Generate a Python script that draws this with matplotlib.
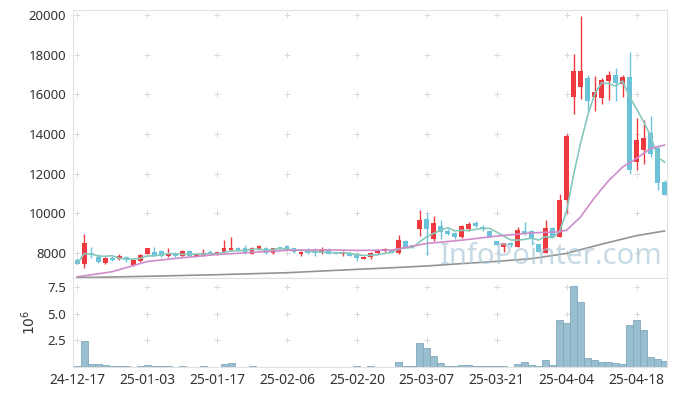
import matplotlib
matplotlib.use("Agg")
import matplotlib.pyplot as plt
import numpy as np
import pandas as pd

plt.rcParams['font.family'] = ['Noto Sans', 'DejaVu Sans']

# ---- data ----
opens = [7660, 7450, 8000, 7815, 7480, 7730, 7680, 7800, 7410, 7580,
         7965, 8065, 8100, 7865, 7965, 7865, 8100, 7830, 7900, 8050,
         7915, 8030, 8150, 8235, 8235, 7965, 8215, 8235, 8000, 8300,
         8335, 8235, 7950, 8130, 8130, 8065, 8150, 8030, 7965, 8000,
         7930, 7715, 7785, 8015, 8085, 8180, 7985, 8585, 8385, 9220,
         9695, 8720, 9355, 9090, 8990, 8820, 9190, 9525, 9320, 9090,
         8620, 8315, 8485, 8320, 9120, 9120, 8450, 8015, 9255, 8820,
         10660, 15890, 16357, 16830, 15855, 15790, 16690, 16995, 16525, 16895,
         12575, 13175, 14045, 13275, 11570]
highs = [7760, 8950, 8300, 7950, 7800, 7830, 7950, 7830, 7680, 7950,
         8235, 8300, 8170, 8250, 8030, 8130, 8130, 7980, 8200, 8150,
         8065, 8650, 8790, 8300, 8400, 8330, 8400, 8330, 8270, 8320,
         8400, 8270, 8100, 8235, 8235, 8300, 8235, 8060, 8100, 8030,
         8000, 7830, 8030, 8200, 8250, 8200, 8920, 8650, 8420, 10195,
         10025, 9860, 9690, 9200, 9055, 9420, 9560, 9620, 9390, 9090,
         8620, 8520, 8550, 9320, 9590, 9180, 8450, 9660, 9290, 11000,
         14015, 18035, 19945, 16960, 16900, 16830, 17160, 17330, 16995, 18135,
         14820, 14720, 14890, 13440, 11700]
lows = [7430, 7250, 7750, 7500, 7450, 7600, 7650, 7560, 7360, 7560,
        7930, 7850, 7820, 7820, 7780, 7820, 7865, 7800, 7830, 7880,
        7880, 8000, 8100, 8100, 7950, 7930, 8130, 7965, 7965, 8200,
        8150, 8000, 7870, 7965, 7870, 7930, 7965, 7930, 7870, 7865,
        7600, 7680, 7680, 7950, 8050, 8015, 7950, 8250, 8250, 8855,
        7885, 8585, 8720, 8900, 8720, 8750, 9120, 9300, 9090, 8820,
        8415, 8060, 8320, 8290, 8890, 8420, 8050, 7985, 8790, 8790,
        9995, 14985, 15755, 15185, 15185, 15520, 15690, 15655, 15855, 12005,
        12170, 12470, 12850, 11165, 10915]
closes = [7460, 8490, 7900, 7565, 7765, 7630, 7850, 7630, 7630, 7915,
          8235, 7900, 7865, 7965, 7865, 8100, 7865, 7965, 8000, 7950,
          8030, 8270, 8270, 8115, 7985, 8270, 8370, 8000, 8270, 8235,
          8165, 8030, 8065, 8000, 8000, 8150, 7965, 7930, 8030, 7865,
          7765, 7815, 7985, 8150, 8215, 8015, 8650, 8285, 8285, 9660,
          9220, 9530, 9055, 8955, 8820, 9355, 9490, 9355, 9190, 8820,
          8415, 8485, 8385, 9155, 9020, 8690, 8050, 9255, 8820, 10660,
          13880, 17200, 17196, 15655, 16125, 16730, 16995, 16590, 16895, 12170,
          13680, 13780, 13010, 11535, 10915]
volumes = [0.07, 2.45, 0.28, 0.28, 0.17, 0.08, 0.08, 0.08, 0.02, 0.08,
           0.17, 0.08, 0.08, 0.08, 0.02, 0.08, 0.02, 0.02, 0.08, 0.02,
           0.02, 0.28, 0.35, 0.02, 0.02, 0.08, 0.02, 0.02, 0.02, 0.02,
           0.02, 0.02, 0.02, 0.02, 0.02, 0.02, 0.02, 0.02, 0.02, 0.02,
           0.09, 0.02, 0.09, 0.02, 0.02, 0.02, 0.47, 0.09, 0.09, 2.22,
           1.75, 1.00, 0.34, 0.09, 0.09, 0.16, 0.16, 0.08, 0.08, 0.08,
           0.08, 0.08, 0.02, 0.25, 0.44, 0.16, 0.09, 0.66, 0.16, 4.38,
           4.13, 7.60, 6.06, 0.81, 0.66, 0.44, 0.44, 0.34, 0.25, 3.90,
           4.38, 3.44, 0.90, 0.72, 0.56]

# longer moving averages (index, value)
ma20_idx = [0, 5, 10, 15, 20, 25, 30, 35, 40, 45, 50, 55, 60, 65, 69, 70, 72, 74, 76, 78, 80, 82, 84]
ma20_val = [6800, 7060, 7575, 7765, 7925, 8035, 8135, 8165, 8135, 8150, 8485, 8650, 8855, 9020, 9070,
            9155, 9825, 10800, 11650, 12335, 12775, 13275, 13440]
ma60_idx = [0, 10, 20, 30, 40, 45, 50, 55, 60, 65, 70, 75, 80, 84]
ma60_val = [6760, 6830, 6910, 7010, 7180, 7260, 7350, 7470, 7580, 7720, 7985, 8450, 8880, 9115]

tick_pos = [0, 10, 20, 30, 40, 50, 60, 70, 80]
tick_labels = ['24-12-17', '25-01-03', '25-01-17', '25-02-06', '25-02-20',
               '25-03-07', '25-03-21', '25-04-04', '25-04-18']
price_ticks = [8000, 10000, 12000, 14000, 16000, 18000, 20000]
vol_ticks = [2.5, 5.0, 7.5]

# ---- styling ----
UP = '#ee3a3f'
DOWN = '#6cc3d9'
TEAL = '#86c8bd'
PINK = '#cf8ccb'
GRAY = '#939393'
SPINE = '#e2e2e2'
TXT = '#333333'

fig = plt.figure(figsize=(6.77, 3.96), dpi=100)
W, H = 677, 396
ax = fig.add_axes([73 / W, 1 - 278 / H, (667 - 73) / W, (278 - 10) / H])
axv = fig.add_axes([73 / W, 1 - 367 / H, (667 - 73) / W, (367 - 278) / H], sharex=ax)

n = len(closes)
x = np.arange(n)
o = np.array(opens); h = np.array(highs); l = np.array(lows); c = np.array(closes)
up = c >= o
cols = np.where(up, UP, DOWN)

# grid crosses
gx, gy = np.meshgrid(tick_pos, price_ticks)
ax.scatter(gx.ravel(), gy.ravel(), marker='+', s=14, color='#dadada', linewidths=0.7, zorder=0)
gx2, gy2 = np.meshgrid(tick_pos, vol_ticks)
axv.scatter(gx2.ravel(), gy2.ravel(), marker='+', s=14, color='#dadada', linewidths=0.7, zorder=0)

# candles
ax.vlines(x, l, h, colors=cols, linewidth=1.0, zorder=2)
body_bottom = np.minimum(o, c)
body_h = np.maximum(np.abs(c - o), 25)
ax.bar(x, body_h, bottom=body_bottom, width=0.7, color=cols, linewidth=0, zorder=3)

# moving averages
ma5 = pd.Series(closes).rolling(5, min_periods=1).mean()
ax.plot(x, ma5, color=TEAL, lw=1.2, zorder=4)
ax.plot(ma20_idx, ma20_val, color=PINK, lw=1.2, zorder=4)
ax.plot(ma60_idx, ma60_val, color=GRAY, lw=1.2, zorder=4)

ax.set_xlim(-0.6, 84.35)
ax.set_ylim(6744, 20250)
ax.set_yticks(price_ticks)
ax.set_yticklabels([str(t) for t in price_ticks])
ax.tick_params(axis='y', length=0, labelsize=9.5, colors=TXT, pad=5)
ax.tick_params(axis='x', length=0, labelbottom=False)
for s in ax.spines.values():
    s.set_color(SPINE)

# volume
axv.bar(x, volumes, width=1.0, color='#98bed0', edgecolor='#80a9bd', linewidth=0.6, zorder=2)
axv.set_ylim(0, 8.34)
axv.set_yticks(vol_ticks)
axv.set_yticklabels(['2.5', '5.0', '7.5'])
axv.set_xticks(tick_pos)
axv.set_xticklabels(tick_labels)
axv.tick_params(axis='y', length=0, labelsize=9.5, colors=TXT, pad=5)
axv.tick_params(axis='x', length=0, labelsize=10, colors=TXT, pad=4)
axv.set_ylabel(r'$10^{6}$', fontsize=10, color=TXT, labelpad=6)
for s in axv.spines.values():
    s.set_color(SPINE)

# watermark
fig.text(551 / W, 1 - 256 / H, 'InfoPointer.com', fontsize=21, color='#a9c6d6',
         alpha=0.65, ha='center', va='center', zorder=10)

fig.savefig('out.png', dpi=100)
